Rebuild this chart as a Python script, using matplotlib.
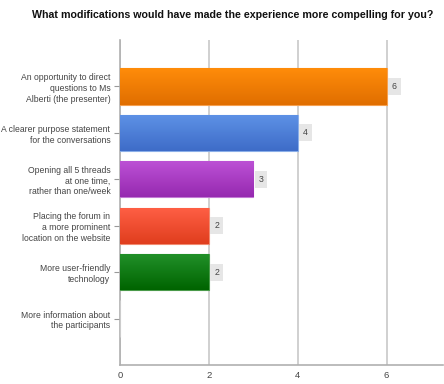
import matplotlib
matplotlib.use("Agg")
import matplotlib.pyplot as plt
import numpy as np
from matplotlib.colors import LinearSegmentedColormap

plt.rcParams['font.family'] = ['Liberation Sans', 'DejaVu Sans']

categories = [
    "An opportunity to direct\nquestions to Ms\nAlberti (the presenter)",
    "A clearer purpose statement\nfor the conversations",
    "Opening all 5 threads\nat one time,\nrather than one/week",
    "Placing the forum in\na more prominent\nlocation on the website",
    "More user-friendly\ntechnology",
    "More information about\nthe participants",
]
values = [6, 4, 3, 2, 2, 0]
top_colors = ["#ff8c0a", "#5e92e6", "#bd52d6", "#ff5f45", "#22912a", "#cccccc"]
bottom_colors = ["#e06e00", "#3e6cc8", "#9629b0", "#e03e1e", "#006400", "#cccccc"]
edge_colors = ["#f5a050", "#8aaee8", "#c27ad4", "#f08a70", "#4a9a4a", "#cccccc"]
xticks = [0, 2, 4, 6]
title = "What modifications would have made the experience more compelling for you?"

W, H = 444, 384
fig = plt.figure(figsize=(W/100, H/100), dpi=100)
ax = fig.add_axes([120/W, 1-365/H, (443-120)/W, (365-40)/H])

y = np.arange(len(categories))
bars = ax.barh(y, values, height=0.78, color=top_colors, edgecolor=edge_colors, linewidth=0.8, zorder=3)

# gradient fill (light at top, darker at bottom)
for b, ct, cb in zip(bars, top_colors, bottom_colors):
    w = b.get_width()
    if w <= 0:
        continue
    x0, y0 = b.get_x(), b.get_y()
    h = b.get_height()
    cmap = LinearSegmentedColormap.from_list("g", [ct, cb])
    grad = np.linspace(0, 1, 64).reshape(-1, 1)
    im = ax.imshow(grad, extent=[x0, x0 + w, y0 + h, y0], origin='upper', cmap=cmap,
                   aspect='auto', zorder=3.5)
    im.set_clip_path(b)

ax.set_xlim(0, 7.27)
ax.set_ylim(len(categories), -1)
ax.set_xticks(xticks)
ax.set_xticklabels([str(t) for t in xticks], fontsize=6.8, color="#444444")
ax.set_yticks(y)
ax.set_yticklabels(categories, fontsize=6.2, color="#444444", linespacing=1.25)
ax.tick_params(axis='y', length=4, color="#999999", width=0.8, pad=3)
ax.tick_params(axis='x', length=0, pad=4)
ax.grid(axis='x', color="#c8c8c8", linewidth=1.2, zorder=0)
ax.set_axisbelow(True)
for s in ['top', 'right']:
    ax.spines[s].set_visible(False)
ax.spines['left'].set_color("#b0b0b0")
ax.spines['bottom'].set_color("#b0b0b0")
ax.spines['left'].set_linewidth(1.2)
ax.spines['bottom'].set_linewidth(1.2)

for b, v in zip(bars, values):
    if v <= 0:
        continue
    ax.text(b.get_width() + 0.12, b.get_y() + b.get_height()/2, str(v), fontsize=6.3,
            color="#444444", va='center', ha='left', zorder=5,
            bbox=dict(boxstyle='square,pad=0.45', fc="#e6e6e6", ec='none'))

fig.text(233/W, 1-15/H, title, fontsize=7.7, fontweight='bold', ha='center', va='center', color="#111111")

fig.savefig("out.png", dpi=100, facecolor='white')
